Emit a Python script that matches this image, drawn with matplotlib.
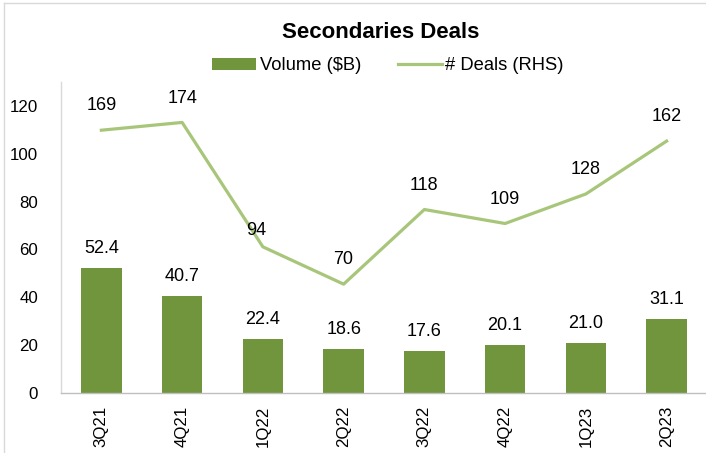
import matplotlib
matplotlib.use("Agg")
import matplotlib.pyplot as plt
from matplotlib.patches import Patch
from matplotlib.lines import Line2D

quarters = ["3Q21", "4Q21", "1Q22", "2Q22", "3Q22", "4Q22", "1Q23", "2Q23"]
volume = [52.4, 40.7, 22.4, 18.6, 17.6, 20.1, 21.0, 31.1]
deals = [169, 174, 94, 70, 118, 109, 128, 162]
left_ticks = [0, 20, 40, 60, 80, 100, 120]

BAR = "#70953C"
LINE = "#A8C67A"
GRID = "#BFBFBF"

plt.rcParams['font.family'] = ['Liberation Sans', 'DejaVu Sans']

W, H = 706, 453
fig = plt.figure(figsize=(W / 100, H / 100), dpi=100)
ax = fig.add_axes([61 / W, (H - 393) / H, 646 / W, 311 / H])
ax2 = ax.twinx()

x = list(range(len(quarters)))
ax.bar(x, volume, width=0.5, color=BAR, zorder=2)
ax2.plot(x, deals, color=LINE, linewidth=2.3, zorder=3)

ax.set_xlim(-0.5, len(quarters) - 0.5)
ax.set_ylim(0, 130)
ax2.set_ylim(0, 200)
ax.set_yticks(left_ticks)
ax.set_yticklabels([str(t) for t in left_ticks], fontsize=12.2)
ax.set_xticks(x)
ax.set_xticklabels(quarters, rotation=90, fontsize=12.2, va='top')
ax.tick_params(axis='y', length=0, pad=16.5)
ax.tick_params(axis='x', length=0, pad=9)
ax2.set_yticks([])

for a in (ax, ax2):
    a.spines['top'].set_visible(False)
    a.spines['right'].set_visible(False)
ax2.spines['left'].set_visible(False)
ax2.spines['bottom'].set_visible(False)
ax.spines['left'].set_color("#D9D9D9")
ax.spines['bottom'].set_color(GRID)
ax.spines['left'].set_linewidth(1.0)
ax.spines['bottom'].set_linewidth(1.0)

for xi, v in zip(x, volume):
    ax.annotate(f"{v:.1f}", (xi, v), xytext=(0, 14), textcoords='offset points',
                ha='center', va='center', fontsize=13)
for xi, d in zip(x, deals):
    off = (-5, 12) if d == 94 else (0, 17.5)
    ax2.annotate(f"{d}", (xi, d), xytext=off, textcoords='offset points',
                 ha='center', va='center', fontsize=13)

fig.text(381 / W, 1 - 33 / H, "Secondaries Deals", ha='center', va='center',
         fontsize=16, fontweight='bold')

handles = [Patch(facecolor=BAR, edgecolor='none'),
           Line2D([0], [0], color=LINE, linewidth=2.3)]
fig.legend(handles, ["Volume ($B)", "# Deals (RHS)"], loc='center',
           bbox_to_anchor=(388 / W, 1 - 66 / H), ncol=2, frameon=False,
           fontsize=13.2, handlelength=2.4, handleheight=0.6,
           handletextpad=0.2, columnspacing=2.0)

# chart frame (left and top edges visible)
fig.add_artist(Line2D([4 / W, 4 / W], [0, 1 - 3 / H], color="#D9D9D9",
                      linewidth=1.0, transform=fig.transFigure))
fig.add_artist(Line2D([4 / W, 1], [1 - 3 / H, 1 - 3 / H], color="#D9D9D9",
                      linewidth=1.0, transform=fig.transFigure))

fig.savefig("out.png", dpi=100)
